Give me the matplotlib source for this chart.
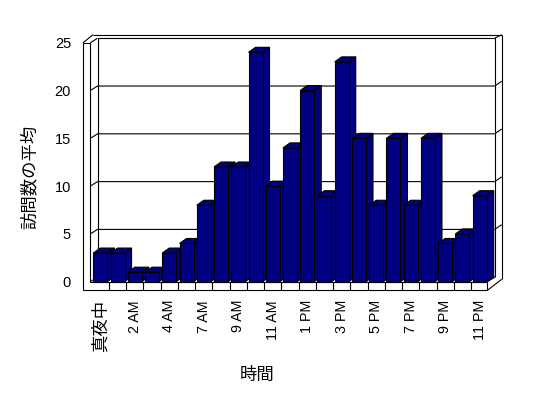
import matplotlib
matplotlib.use("Agg")
import matplotlib.pyplot as plt
from matplotlib.patches import Polygon

plt.rcParams['font.family'] = ['Liberation Sans', 'Noto Sans CJK JP']

# ---- data ----
hours = ['真夜中', '1 AM', '2 AM', '3 AM', '4 AM', '5 AM', '7 AM', '8 AM', '9 AM',
         '10 AM', '11 AM', '12 PM', '1 PM', '2 PM', '3 PM', '4 PM', '5 PM', '6 PM',
         '7 PM', '8 PM', '9 PM', '10 PM', '11 PM']
visits = [3, 3, 1, 1, 3, 4, 8, 12, 12, 24, 10, 14, 20, 9, 23, 15, 8, 15, 8, 15, 4, 5, 9]
y_ticks = [0, 5, 10, 15, 20, 25]
x_title = '時間'
y_title = '訪問数の平均'

BAR = '#000080'
LW = 0.8

fig = plt.figure(figsize=(5.48, 3.98), dpi=100)
ax = fig.add_axes([83 / 548, (398 - 290.3) / 398, (501.7 - 83) / 548, (290.3 - 34.7) / 398])
ax.set_xlim(-1.003, 23.276)
ax.set_ylim(-0.9, 25.84)
for s in ax.spines.values():
    s.set_visible(False)
ax.set_facecolor('white')

n = len(visits)
# frame geometry (data units)
XO, XL, XR = -1.0, -0.58, 22.45      # left wall outer, left wall inner, floor front right
DX, DY = 0.42, 0.47                  # depth offset
TOPF = 25.0                          # top of front planes
XOUT, YOUT = 23.276, 25.84           # outer back edges

def line(xs, ys, z=1):
    ax.plot(xs, ys, color='black', lw=LW, solid_capstyle='butt', zorder=z, clip_on=False)

# back wall
line([XL + DX, XR + DX], [TOPF + DY, TOPF + DY])
line([XR + DX, XR + DX], [TOPF + DY, DY])
line([XL + DX, XL + DX], [TOPF + DY, DY])
line([-0.42, XOUT], [YOUT, YOUT])
line([XOUT, XOUT], [YOUT, 0.25])
line([XR + DX, XOUT], [TOPF + DY, YOUT])
# left wall
line([XO, XO, XL, XL], [-0.9, TOPF, TOPF, 0])
line([XL, XL + DX], [TOPF, TOPF + DY])
line([XO, -0.42], [TOPF, YOUT])
# floor
line([XO, XR, XR], [-0.9, -0.9, 0])
line([XL, XR], [0, 0])
line([XR, XR + DX], [0, DY])
line([XR, XOUT], [-0.9, 0.25])
for k in range(1, n):
    line([k - 0.5, k - 0.5], [-0.9, 0])
# gridlines
for v in y_ticks[:-1]:
    line([XL, XL + DX, XR + DX], [v, v + DY, v + DY])
    if v > 0:
        line([XR + DX, XOUT], [v + DY, v + DY + 0.5])

# bars
w = 0.812
DXb, DYb = 0.406, 0.52
for i, v in enumerate(visits):
    z = 3 + i
    xl, xr = i - w / 2, i + w / 2
    side = Polygon([(xr, 0), (xr + DXb, DYb), (xr + DXb, v + DYb), (xr, v)],
                   closed=True, facecolor=BAR, edgecolor='black', lw=LW, zorder=z, clip_on=False)
    top = Polygon([(xl, v), (xr, v), (xr + DXb, v + DYb), (xl + DXb, v + DYb)],
                  closed=True, facecolor=BAR, edgecolor='black', lw=LW, zorder=z, clip_on=False)
    ax.add_patch(side)
    ax.add_patch(top)
    ax.bar([i], [v], width=w, color=BAR, edgecolor='black', linewidth=LW, zorder=z + 0.5,
           clip_on=False)

# ticks
ax.set_yticks(y_ticks)
ax.set_yticklabels([str(t) for t in y_ticks], fontsize=10.5)
idx = list(range(0, n, 2))
ax.set_xticks(idx)
ax.set_xticklabels([hours[i] for i in idx], rotation=90, fontsize=10.3, va='top', ha='center')
ax.tick_params(axis='both', length=0)
ax.tick_params(axis='y', pad=8.6)
ax.tick_params(axis='x', pad=7)
for lab in ax.get_xticklabels():
    if lab.get_text() == '真夜中':
        lab.set_fontsize(12.5)

fig.text(257 / 548, 1 - 375 / 398, x_title, fontsize=12.5, ha='center', va='center')
fig.text(29 / 548, 1 - 177 / 398, y_title, fontsize=12.5, ha='center', va='center', rotation=90)

fig.savefig('out.png', dpi=100, facecolor='white')
